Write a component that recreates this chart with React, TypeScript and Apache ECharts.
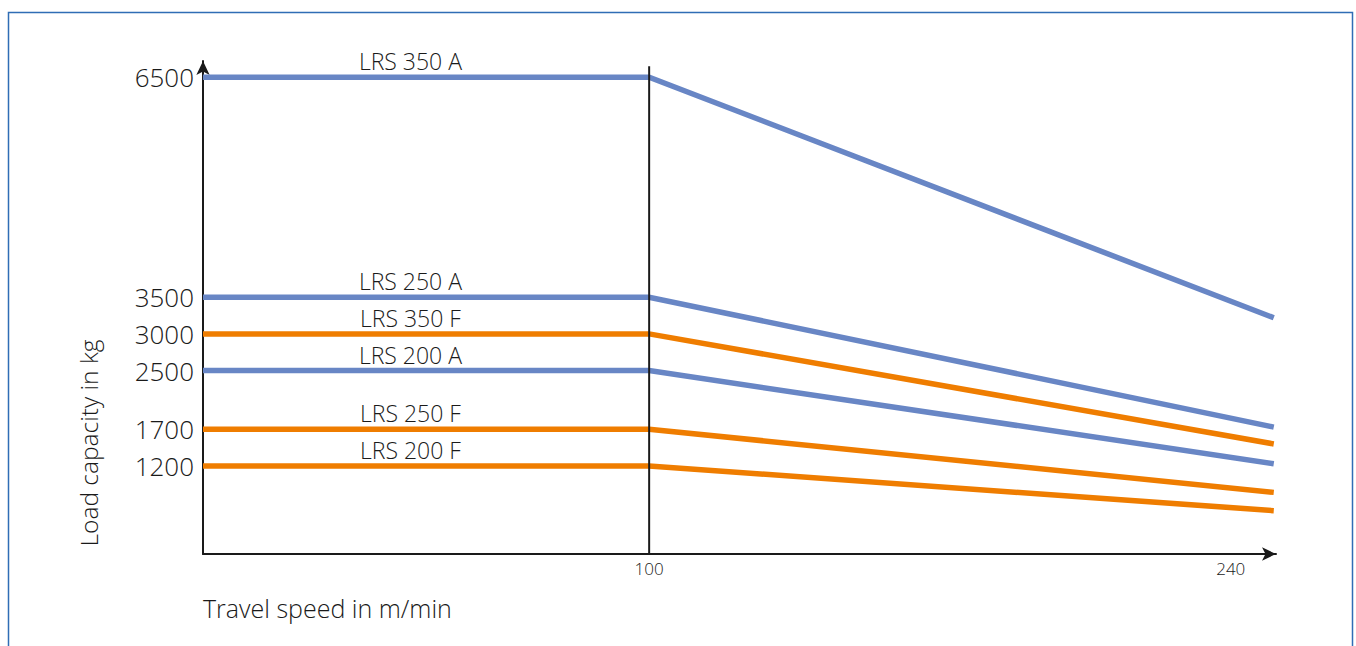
import React, { useEffect, useRef } from "react";
import * as echarts from "echarts";

const seriesNames = ["LRS 350 A", "LRS 250 A", "LRS 350 F", "LRS 200 A", "LRS 250 F", "LRS 200 F"];
const seriesColors = ["#6886c5", "#6886c5", "#ef7d00", "#6886c5", "#ef7d00", "#ef7d00"];
const speeds = [0, 100, 240];
const loadAtStart = [6500, 3500, 3000, 2500, 1700, 1200];
const loadAt100 = [6500, 3500, 3000, 2500, 1700, 1200];
const loadAt240 = [3220, 1730, 1500, 1230, 840, 590];
const yTicks = [1200, 1700, 2500, 3000, 3500, 6500];
const xTicks = [100, 240];
const labelSpeed = 46.5;
const markerSpeed = [100, 100];
const markerLoad = [0, 6650];

const FONT = "'Open Sans', 'Noto Sans', sans-serif";
const INK = "#1a1a1a";
const W = 300;

export default function App() {
  const ref = useRef<HTMLDivElement>(null);
  useEffect(() => {
    if (!ref.current) return;
    const chart = echarts.init(ref.current, undefined, { renderer: "svg" });
    const lineSeries = seriesNames.map((name, i) => ({
      name,
      type: "line",
      data: [
        [speeds[0], loadAtStart[i]],
        [speeds[1], loadAt100[i]],
        [speeds[2], loadAt240[i]],
      ],
      symbol: "none",
      lineStyle: { color: seriesColors[i], width: 5.5, cap: "butt", join: "miter" },
      z: 3,
      markPoint: {
        symbol: "rect",
        symbolSize: 1,
        itemStyle: { color: "transparent" },
        label: {
          show: true,
          position: "top",
          distance: 3,
          formatter: name,
          fontFamily: FONT,
          fontWeight: W,
          fontSize: 23,
          lineHeight: 25,
          color: INK,
        },
        data: [{ coord: [labelSpeed, loadAtStart[i]] }],
      },
    }));
    const option = {
      animation: false,
      grid: { left: 203, right: 80, top: 61, bottom: 92 },
      xAxis: {
        type: "value",
        min: 0,
        max: 240.5,
        splitLine: { show: false },
        axisTick: { show: false },
        axisLine: {
          show: true,
          symbol: ["none", "arrow"],
          symbolSize: [10, 14],
          lineStyle: { color: INK, width: 2 },
        },
        axisLabel: {
          customValues: xTicks,
          color: INK,
          margin: 6,
          formatter: (v: number) => (v === 240 ? "{e|" + v + "}" : "{m|" + v + "}"),
          rich: {
            m: { fontFamily: FONT, fontWeight: W, fontSize: 17, color: INK },
            e: { fontFamily: FONT, fontWeight: W, fontSize: 17, color: INK, padding: [0, 86, 0, 0] },
          },
        },
      },
      yAxis: {
        type: "value",
        min: 0,
        max: 6720,
        splitLine: { show: false },
        axisTick: { show: false },
        axisLine: {
          show: true,
          symbol: ["none", "arrow"],
          symbolSize: [10, 14],
          lineStyle: { color: INK, width: 2 },
        },
        axisLabel: {
          customValues: yTicks,
          fontFamily: FONT,
          fontWeight: W,
          fontSize: 26,
          color: INK,
          margin: 9,
          formatter: (v: number) => String(v),
        },
      },
      graphic: [
        {
          type: "polyline",
          shape: { points: [[8.5, 646], [8.5, 12.5], [1352.5, 12.5], [1352.5, 646]] },
          style: { stroke: "#2f6db5", lineWidth: 1.5, fill: "none" },
          silent: true,
        },
        {
          type: "text",
          x: 88,
          y: 443,
          rotation: Math.PI / 2,
          style: {
            text: "Load capacity in kg",
            fontFamily: FONT,
            fontWeight: W,
            fontSize: 24.5,
            fill: INK,
            textAlign: "center",
            textVerticalAlign: "middle",
          },
        },
        {
          type: "text",
          x: 203,
          y: 608,
          style: {
            text: "Travel speed in m/min",
            fontFamily: FONT,
            fontWeight: W,
            fontSize: 25,
            fill: INK,
            textAlign: "left",
            textVerticalAlign: "middle",
          },
        },
      ],
      series: [
        ...lineSeries,
        {
          name: "marker",
          type: "line",
          data: markerSpeed.map((s, i) => [s, markerLoad[i]]),
          symbol: "none",
          lineStyle: { color: INK, width: 2 },
          z: 4,
        },
      ],
    };
    chart.setOption(option as any);
    return () => chart.dispose();
  }, []);
  return (
    <div
      ref={ref}
      style={{ position: "fixed", left: 0, top: 0, width: 1356, height: 646, background: "#fff" }}
    />
  );
}
